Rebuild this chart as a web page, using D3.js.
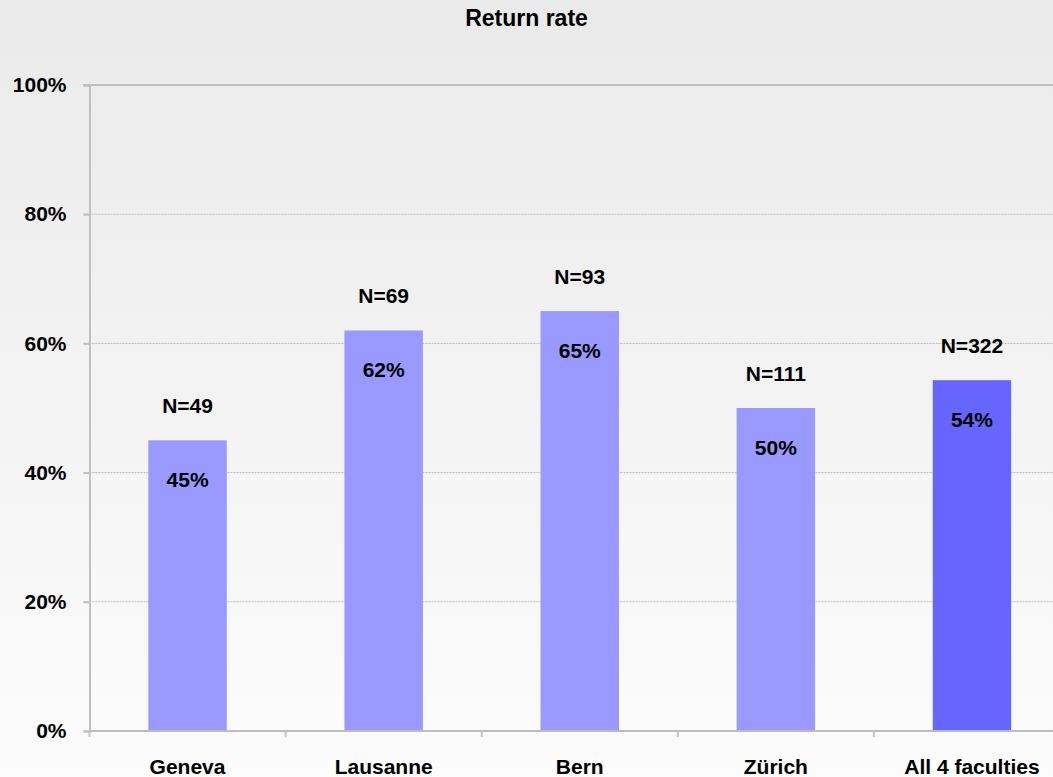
<!DOCTYPE html>
<html>
<head>
<meta charset="utf-8">
<script src="https://cdn.jsdelivr.net/npm/d3@7"></script>
<style>
  body { margin: 0; overflow: hidden; }
  text { font-family: "Liberation Sans", Arial, sans-serif; font-weight: bold; fill: #000; }
</style>
</head>
<body>
<div id="chart"></div>
<script>
// data
const CATEGORIES = ["Geneva", "Lausanne", "Bern", "Zürich", "All 4 faculties"]
const RETURN_RATE = [45, 62, 65, 50, 54.3]
const N_COUNTS = [49, 69, 93, 111, 322]
const Y_TICKS = [0, 20, 40, 60, 80, 100]

const WIDTH = 1053,
    HEIGHT = 777

// plot area
const LEFT = 89.5,
    TOP = 85,
    BOTTOM = 731,
    STEP = 196.1

let svg = d3.select("#chart")
    .append("svg")
    .attr("width", WIDTH)
    .attr("height", HEIGHT)

// background gradient, grey at top fading to near white
let grad = svg.append("defs").append("linearGradient")
    .attr("id", "bg")
    .attr("x1", 0).attr("y1", 0).attr("x2", 0).attr("y2", 1)
grad.append("stop").attr("offset", "0%").attr("stop-color", "#eaeaea")
grad.append("stop").attr("offset", "100%").attr("stop-color", "#fcfcfc")

svg.append("rect")
    .attr("width", WIDTH)
    .attr("height", HEIGHT)
    .attr("fill", "url(#bg)")

let x = d3.scaleBand()
    .domain(CATEGORIES)
    .range([LEFT, LEFT + STEP * CATEGORIES.length])
    .paddingInner(0)
    .paddingOuter(0)

const BAR_W = x.bandwidth() * 0.4

let y = d3.scaleLinear()
    .domain([0, 100])
    .range([BOTTOM, TOP])

// dotted gridlines
svg.append("g")
    .selectAll("line")
    .data(Y_TICKS.filter(d => d > 0 && d < 100))
    .enter()
    .append("line")
    .attr("x1", LEFT - 6)
    .attr("x2", WIDTH)
    .attr("y1", d => y(d))
    .attr("y2", d => y(d))
    .attr("stroke", "#b8b8b8")
    .attr("stroke-width", 1)
    .attr("stroke-dasharray", "2,1")

// top border of plot area
svg.append("line")
    .attr("x1", LEFT - 6).attr("x2", WIDTH)
    .attr("y1", y(100)).attr("y2", y(100))
    .attr("stroke", "#c0c0c0")
    .attr("stroke-width", 2)

// y axis
let yAxis = svg.append("g")
    .attr("transform", "translate(" + LEFT + ",0)")
    .call(d3.axisLeft(y).tickValues(Y_TICKS).tickSize(6).tickPadding(17).tickFormat(d => d + "%"))
yAxis.select(".domain").attr("stroke", "#c0c0c0").attr("stroke-width", 2)
yAxis.selectAll(".tick line").attr("stroke", "#c0c0c0").attr("stroke-width", 2)
yAxis.selectAll(".tick text")
    .style("font-size", "21px")
    .style("font-family", "'Liberation Sans', Arial, sans-serif")
    .style("font-weight", "bold")
    .attr("fill", "#000")

// bars
svg.append("g")
    .selectAll("rect")
    .data(CATEGORIES)
    .enter()
    .append("rect")
    .attr("x", (d, i) => x(d) + (x.bandwidth() - BAR_W) / 2)
    .attr("width", BAR_W)
    .attr("y", (d, i) => y(RETURN_RATE[i]))
    .attr("height", (d, i) => y(0) - y(RETURN_RATE[i]))
    .attr("fill", (d, i) => i == CATEGORIES.length - 1 ? "#6666ff" : "#9999ff")

// x axis
svg.append("line")
    .attr("x1", LEFT).attr("x2", WIDTH)
    .attr("y1", BOTTOM).attr("y2", BOTTOM)
    .attr("stroke", "#bcbcbc")
    .attr("stroke-width", 2)

svg.append("g")
    .selectAll("line")
    .data(d3.range(CATEGORIES.length + 1))
    .enter()
    .append("line")
    .attr("x1", i => LEFT + i * x.step())
    .attr("x2", i => LEFT + i * x.step())
    .attr("y1", BOTTOM)
    .attr("y2", BOTTOM + 6)
    .attr("stroke", "#c4c4c4")
    .attr("stroke-width", 2)

svg.append("g")
    .selectAll("text")
    .data(CATEGORIES)
    .enter()
    .append("text")
    .attr("x", d => x(d) + x.bandwidth() / 2)
    .attr("y", 774)
    .attr("text-anchor", "middle")
    .style("font-size", "21px")
    .text(d => d)

// value labels inside the bars
svg.append("g")
    .selectAll("text")
    .data(RETURN_RATE)
    .enter()
    .append("text")
    .attr("x", (d, i) => x(CATEGORIES[i]) + x.bandwidth() / 2)
    .attr("y", d => y(d) + 46.5)
    .attr("text-anchor", "middle")
    .style("font-size", "21px")
    .text(d => Math.round(d) + "%")

// N labels above the bars
svg.append("g")
    .selectAll("text")
    .data(N_COUNTS)
    .enter()
    .append("text")
    .attr("x", (d, i) => x(CATEGORIES[i]) + x.bandwidth() / 2)
    .attr("y", (d, i) => y(RETURN_RATE[i]) - 27.5)
    .attr("text-anchor", "middle")
    .style("font-size", "21px")
    .text(d => "N=" + d)

// title
svg.append("text")
    .attr("x", WIDTH / 2)
    .attr("y", 26)
    .attr("text-anchor", "middle")
    .style("font-size", "23px")
    .text("Return rate")
</script>
</body>
</html>
